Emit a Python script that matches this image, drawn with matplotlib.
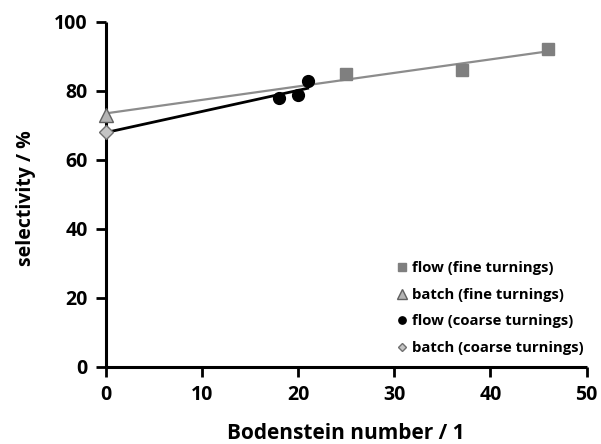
import numpy as np
import matplotlib
matplotlib.use("Agg")
import matplotlib.pyplot as plt

plt.rcParams['font.family'] = ['Open Sans', 'DejaVu Sans']

flow_fine_x = [25, 37, 46]
flow_fine_y = [85, 86, 92]
batch_fine_x = [0]
batch_fine_y = [73]
flow_coarse_x = [18, 20, 21]
flow_coarse_y = [77.8, 78.8, 82.9]
batch_coarse_x = [0]
batch_coarse_y = [68.1]

labels = ["flow (fine turnings)", "batch (fine turnings)",
          "flow (coarse turnings)", "batch (coarse turnings)"]
x_ticks = [0, 10, 20, 30, 40, 50]
y_ticks = [0, 20, 40, 60, 80, 100]

fig = plt.figure(figsize=(6.01, 4.44), dpi=100)
ax = fig.add_axes([0.176, 0.174, 0.8, 0.777])

# trend lines (linear fits through fine / coarse data)
fx = np.array(batch_fine_x + flow_fine_x, dtype=float)
fy = np.array(batch_fine_y + flow_fine_y, dtype=float)
p = np.polyfit(fx, fy, 1)
xs = np.array([fx.min(), fx.max()])
ax.plot(xs, np.polyval(p, xs), color='#8c8c8c', lw=1.6, zorder=4, clip_on=False)

cx = np.array(batch_coarse_x + flow_coarse_x, dtype=float)
cy = np.array(batch_coarse_y + flow_coarse_y, dtype=float)
p2 = np.polyfit(cx, cy, 1)
xs2 = np.array([cx.min(), cx.max()])
ax.plot(xs2, np.polyval(p2, xs2), color='black', lw=2.0, zorder=4, clip_on=False)

ax.plot(flow_fine_x, flow_fine_y, ls='none', marker='s', ms=8.5,
        color='#7f7f7f', mec='#7f7f7f', label=labels[0], zorder=5, clip_on=False)
ax.plot(batch_fine_x, batch_fine_y, ls='none', marker='^', ms=10.5,
        color='#b4b4b4', mec='#606060', mew=1, label=labels[1], zorder=5, clip_on=False)
ax.plot(flow_coarse_x, flow_coarse_y, ls='none', marker='o', ms=8.5,
        color='black', label=labels[2], zorder=5, clip_on=False)
ax.plot(batch_coarse_x, batch_coarse_y, ls='none', marker='D', ms=7,
        color='#c4c4c4', mec='#707070', mew=1, label=labels[3], zorder=5, clip_on=False)

ax.set_xlim(0, 50)
ax.set_ylim(0, 100)
ax.set_xticks(x_ticks)
ax.set_yticks(y_ticks)
for s in ['top', 'right']:
    ax.spines[s].set_visible(False)
for s in ['left', 'bottom']:
    ax.spines[s].set_linewidth(2.2)
    ax.spines[s].set_capstyle('butt')
    ax.spines[s].set_zorder(3)
ax.tick_params(direction='out', length=7, width=2, pad=6, labelsize=14)
for lab in ax.get_xticklabels() + ax.get_yticklabels():
    lab.set_fontweight('bold')

ax.set_xlabel("Bodenstein number / 1", fontsize=15, fontweight='bold', labelpad=13)
ax.set_ylabel("selectivity / %", fontsize=14, fontweight='bold', labelpad=12)
ax.yaxis.set_label_coords(-0.145, 0.49)

leg = ax.legend(loc='lower right', bbox_to_anchor=(1.022, -0.004), frameon=False,
                handlelength=0.6, handletextpad=0.4, labelspacing=0.84,
                markerscale=0.62, prop={'size': 10.7, 'weight': 'bold'})

fig.savefig("out.png", dpi=100)
